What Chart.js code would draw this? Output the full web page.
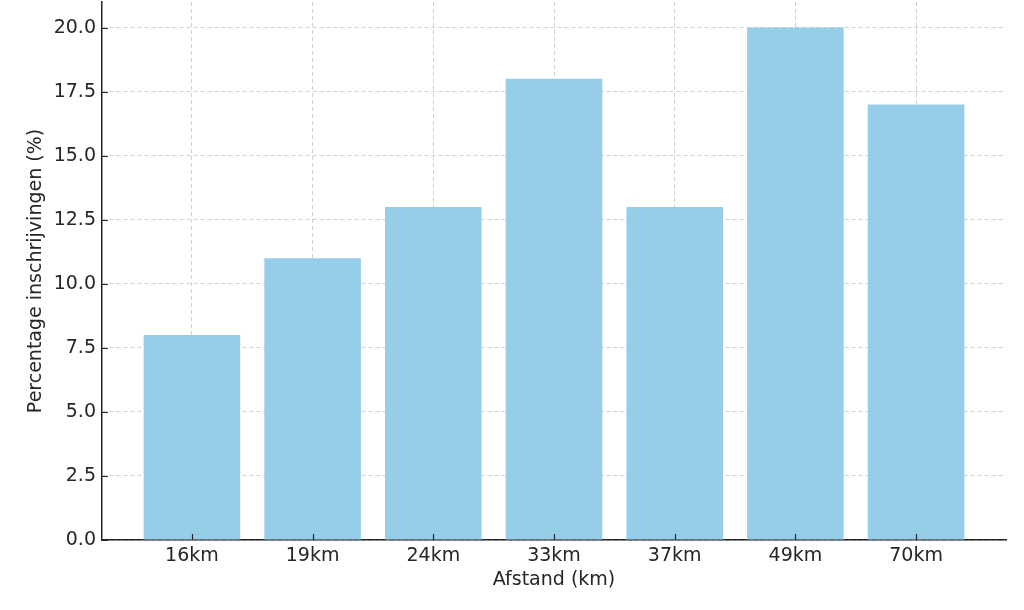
<!DOCTYPE html>
<html>
<head>
<meta charset="utf-8">
<script src="https://cdn.jsdelivr.net/npm/chart.js@4.4.0/dist/chart.umd.min.js"></script>
<style>
  html, body { margin: 0; padding: 0; background: #fff; }
  #wrap { width: 1024px; height: 610px; }
</style>
</head>
<body>
<div id="wrap"><canvas id="myChart" width="1024" height="610"></canvas></div>
<script>
// categories + values (percent of registrations per distance)
var afstanden = ['16km', '19km', '24km', '33km', '37km', '49km', '70km'];
var percentages = [8, 11, 13, 18, 13, 20, 17];
var yTicks = [0, 2.5, 5, 7.5, 10, 12.5, 15, 17.5, 20];

var fontFamily = "'DejaVu Sans', sans-serif";
var textColor = '#262626';
var axisColor = '#262626';
var gridColor = 'rgba(170,170,170,0.55)';

// bars sit on a linear axis so the side margins can match the original
var points = afstanden.map(function (a, i) {
    return { x: i, y: percentages[i] };
});

// short inward tick marks, like the original
var innerTicks = {
    id: 'innerTicks',
    afterDraw: function (chart) {
        var ctx = chart.ctx;
        var xs = chart.scales.x, ys = chart.scales.y;
        var area = chart.chartArea;
        ctx.save();
        ctx.strokeStyle = axisColor;
        ctx.lineWidth = 1.2;
        ctx.beginPath();
        xs.ticks.forEach(function (t) {
            var px = Math.round(xs.getPixelForValue(t.value)) + 0.5;
            ctx.moveTo(px, area.bottom);
            ctx.lineTo(px, area.bottom - 6);
        });
        ys.ticks.forEach(function (t) {
            var py = Math.round(ys.getPixelForValue(t.value)) + 0.5;
            ctx.moveTo(area.left, py);
            ctx.lineTo(area.left + 6, py);
        });
        ctx.stroke();
        ctx.restore();
    }
};

var ctx = document.getElementById('myChart').getContext('2d');
var myChart = new Chart(ctx, {
    type: 'bar',
    data: {
        datasets: [{
            data: points,
            backgroundColor: '#96cde8',
            borderWidth: 0,
            categoryPercentage: 0.8,
            barPercentage: 1.0
        }]
    },
    options: {
        responsive: false,
        devicePixelRatio: 1,
        animation: false,
        layout: { padding: { top: 2, right: 18, left: 0, bottom: 0 } },
        plugins: {
            legend: { display: false },
            tooltip: { enabled: false }
        },
        scales: {
            x: {
                type: 'linear',
                min: -0.745,
                max: 6.745,
                offset: false,
                z: 1,
                afterBuildTicks: function (scale) {
                    scale.ticks = afstanden.map(function (a, i) { return { value: i }; });
                },
                afterFit: function (scale) {
                    scale.height = 70;
                    scale.paddingLeft = 0;
                    scale.paddingRight = 0;
                },
                ticks: {
                    stepSize: 1,
                    autoSkip: false,
                    maxRotation: 0,
                    padding: 5,
                    color: textColor,
                    font: { family: fontFamily, size: 19 },
                    callback: function (v) { return afstanden[v]; }
                },
                grid: { color: gridColor, lineWidth: 1, drawTicks: false, offset: false },
                border: { display: true, color: axisColor, width: 1.5, dash: [4, 3] },
                title: {
                    display: true,
                    text: 'Afstand (km)',
                    color: textColor,
                    font: { family: fontFamily, size: 19 },
                    padding: { top: 0, bottom: 19 }
                }
            },
            y: {
                min: 0,
                max: 21,
                z: 1,
                afterBuildTicks: function (scale) {
                    scale.ticks = yTicks.map(function (v) { return { value: v }; });
                },
                afterFit: function (scale) {
                    scale.width = 102;
                    scale.paddingTop = 0;
                    scale.paddingBottom = 0;
                },
                ticks: {
                    stepSize: 2.5,
                    padding: 6,
                    color: textColor,
                    font: { family: fontFamily, size: 19 },
                    callback: function (v) { return Number(v).toFixed(1); }
                },
                grid: { color: gridColor, lineWidth: 1, drawTicks: false },
                border: { display: true, color: axisColor, width: 1.5, dash: [4, 3] },
                title: {
                    display: true,
                    text: 'Percentage inschrijvingen (%)',
                    color: textColor,
                    font: { family: fontFamily, size: 19 },
                    padding: { top: 25, bottom: 0 }
                }
            }
        }
    },
    plugins: [innerTicks]
});
</script>
</body>
</html>
